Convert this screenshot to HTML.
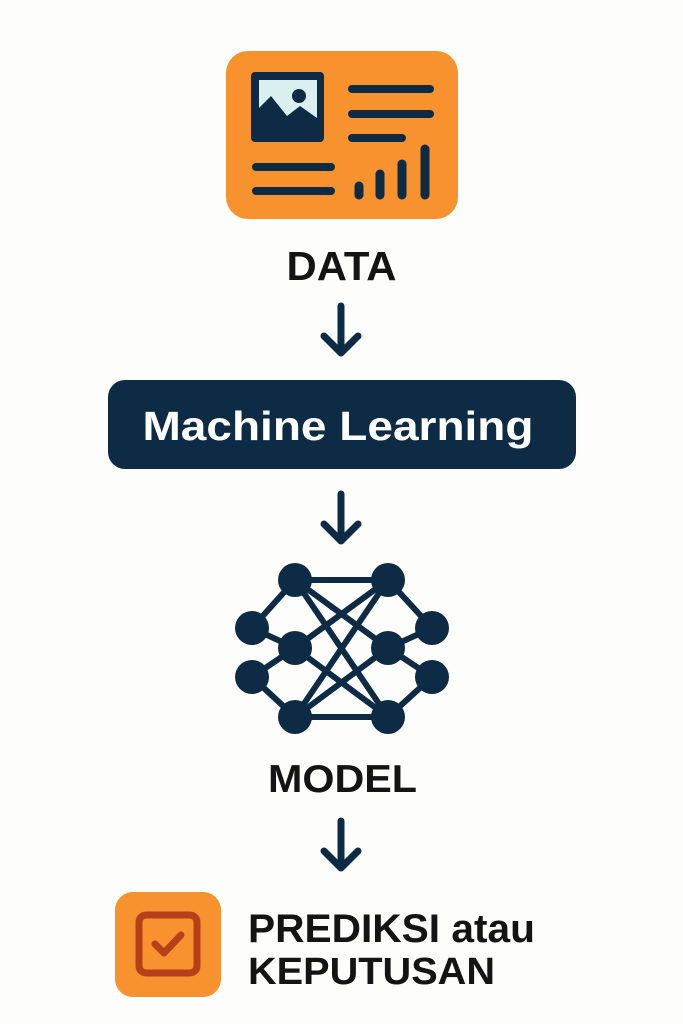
<!DOCTYPE html>
<html><head><meta charset="utf-8"><style>html,body{margin:0;padding:0;background:#fdfdfc}svg{display:block}</style></head>
<body>
<svg width="683" height="1024" viewBox="0 0 683 1024" xmlns="http://www.w3.org/2000/svg">
<rect x="0" y="0" width="683" height="1024" fill="#fdfdfc"/>
<!-- data card -->
<rect x="226" y="51" width="232" height="168" rx="22" fill="#f7922f"/>
<rect x="251" y="72" width="73" height="70" rx="4" fill="#0d2b45"/>
<rect x="259" y="80" width="58" height="40" fill="#d9f0ef"/>
<polygon points="259,122 259,108 271,96 287,116 300,106 317,118 317,122" fill="#0d2b45"/>
<circle cx="299" cy="96" r="7" fill="#0d2b45"/>
<g stroke="#0d2b45" stroke-width="8" stroke-linecap="round" fill="none">
<line x1="352" y1="89" x2="430" y2="89"/>
<line x1="352" y1="114" x2="430" y2="114"/>
<line x1="352" y1="138" x2="402" y2="138"/>
<line x1="256" y1="167" x2="331" y2="167"/>
<line x1="256" y1="191" x2="331" y2="191"/>
<line x1="359" y1="186" x2="359" y2="195" stroke-width="9"/>
<line x1="380" y1="174" x2="380" y2="195" stroke-width="9"/>
<line x1="402" y1="164" x2="402" y2="195" stroke-width="9"/>
<line x1="425" y1="149" x2="425" y2="195" stroke-width="9"/>
</g>
<text x="341.5" y="280" text-anchor="middle" font-family="Liberation Sans, sans-serif" font-weight="bold" font-size="41" fill="#141414" textLength="110" lengthAdjust="spacingAndGlyphs">DATA</text>
<!-- arrows -->
<g stroke="#0d2b45" stroke-width="7" stroke-linecap="round" stroke-linejoin="round" fill="none">
<path d="M341 306 V352 M324 336 L341 353 L358 336"/>
<path d="M341 494 V540 M324 524 L341 541 L358 524"/>
<path d="M341 821 V867 M324 851 L341 868 L358 851"/>
</g>
<!-- ML box -->
<rect x="108" y="380" width="468" height="89" rx="17" fill="#0d2b45"/>
<text x="338" y="440" text-anchor="middle" font-family="Liberation Sans, sans-serif" font-weight="bold" font-size="41" fill="#ffffff" textLength="391" lengthAdjust="spacingAndGlyphs">Machine Learning</text>
<!-- network -->
<g stroke="#0d2b45" stroke-width="6" fill="none">
<line x1="295" y1="580" x2="388" y2="580"/>
<line x1="295" y1="717" x2="388" y2="717"/>
<polyline points="295,580 252,628 295,648 252,677 295,717"/>
<polyline points="388,580 432,628 388,648 432,677 388,717"/>
<line x1="295" y1="580" x2="388" y2="648"/>
<line x1="295" y1="580" x2="388" y2="717"/>
<line x1="388" y1="580" x2="295" y2="648"/>
<line x1="388" y1="580" x2="295" y2="717"/>
<line x1="295" y1="717" x2="388" y2="648"/>
<line x1="388" y1="717" x2="295" y2="648"/>
</g>
<g fill="#0d2b45">
<circle cx="295" cy="580" r="17"/><circle cx="388" cy="580" r="17"/>
<circle cx="252" cy="628" r="17"/><circle cx="252" cy="677" r="17"/>
<circle cx="295" cy="648" r="17"/><circle cx="388" cy="648" r="17"/>
<circle cx="432" cy="628" r="17"/><circle cx="432" cy="677" r="17"/>
<circle cx="295" cy="717" r="17"/><circle cx="388" cy="717" r="17"/>
</g>
<text x="342.5" y="792" text-anchor="middle" font-family="Liberation Sans, sans-serif" font-weight="bold" font-size="39" fill="#141414" textLength="149" lengthAdjust="spacingAndGlyphs">MODEL</text>
<!-- check icon -->
<rect x="115" y="892" width="106" height="105" rx="18" fill="#f7922f"/>
<rect x="139" y="915" width="58" height="58" rx="7" fill="none" stroke="#b5401a" stroke-width="7"/>
<path d="M155 944 L164 953 L181 935" fill="none" stroke="#b5401a" stroke-width="7" stroke-linecap="round" stroke-linejoin="round"/>
<text x="248" y="942" font-family="Liberation Sans, sans-serif" font-weight="bold" font-size="40" fill="#141414" textLength="287" lengthAdjust="spacingAndGlyphs">PREDIKSI atau</text>
<text x="248" y="984" font-family="Liberation Sans, sans-serif" font-weight="bold" font-size="38" fill="#141414" textLength="247" lengthAdjust="spacingAndGlyphs">KEPUTUSAN</text>
</svg>
</body></html>
